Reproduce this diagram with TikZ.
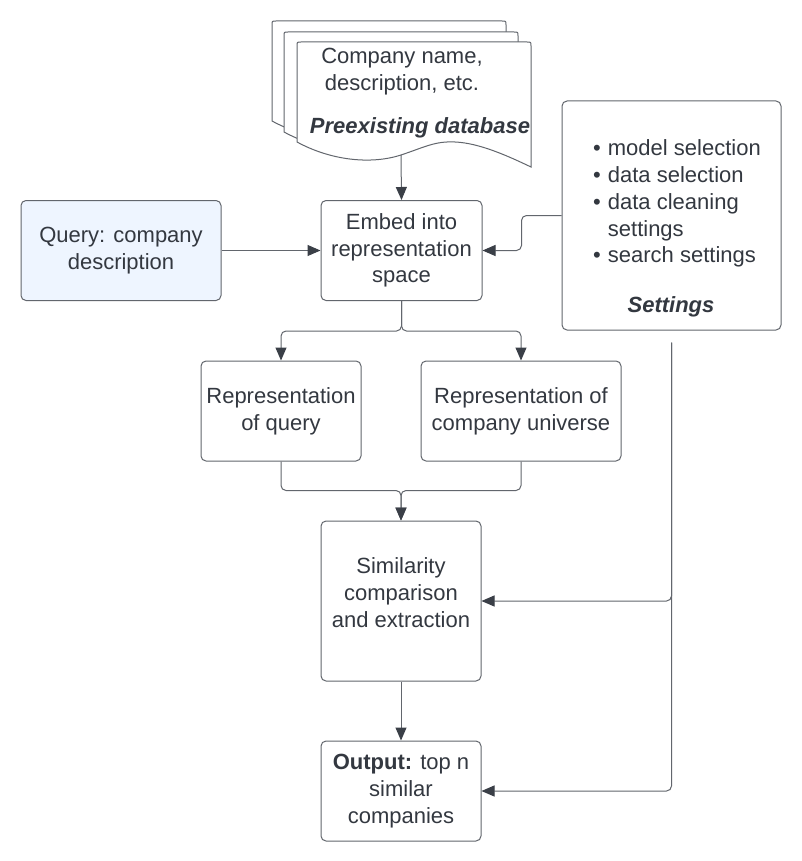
\documentclass[tikz,border=0pt]{standalone}
\usepackage{fontspec}
\setmainfont{Liberation Sans}
\usetikzlibrary{arrows.meta}
\definecolor{txt}{HTML}{333840}
\definecolor{ln}{HTML}{62666D}
\definecolor{arr}{HTML}{3A3F47}
\definecolor{qfill}{HTML}{EEF5FF}
\tikzset{
  base/.style={font=\fontsize{22}{26.7}\selectfont, text=txt},
  bolditalic/.style={font=\fontsize{22}{26.7}\selectfont\bfseries\itshape, text=txt},
  box/.style={base, draw=ln, line width=1pt, rounded corners=5pt, fill=white, align=center, inner sep=0pt},
  conn/.style={draw=ln, line width=1pt, rounded corners=5pt, -{Triangle[length=13pt,width=11pt,color=arr]}},
  sheet/.style={draw=ln, line width=1pt, fill=white},
}
\begin{document}
\begin{tikzpicture}[x=1pt,y=-1pt]
\useasboundingbox (0,0) rectangle (801,861);
\fill[white] (0,0) rectangle (801,861);

% stacked document sheets
\foreach \dx/\dy in {-25/-21, -13/-10, 0/0} {
  \begin{scope}[shift={(\dx,\dy)}]
    \path[sheet] (297,142) -- (297,46) .. controls (297,42) .. (301,42) -- (527,42)
      .. controls (531,42) .. (531,46) -- (531,167)
      .. controls (510,157) and (480,143) .. (455,142)
      .. controls (435,141) and (425,147) .. (401,155)
      .. controls (370,165) and (330,160) .. (297,142) -- cycle;
  \end{scope}
}
\coordinate (docb) at (401,155);
\node[base, align=center] (doctext) at (402,71.5) {Company name,\\description, etc.};
\node[bolditalic] (dbname) at (420,128) {Preexisting database};

% boxes
\node[box, minimum width=161, minimum height=100] (embed) at (401.5,250.5) {Embed into\\representation\\space};
\node[box, fill=qfill, minimum width=200, minimum height=100] (query) at (121,250.5) {Query: company\\description};
\node[box, minimum width=219, minimum height=229] (settings) at (671.5,215.5) {};
\node[base, anchor=base west, inner sep=0pt] (setlist) at (593,156) {\begin{tabular}[t]{@{}l@{\hspace{7pt}}l@{}}
\textbullet & model selection\\
\textbullet & data selection\\
\textbullet & data cleaning\\
 & settings\\
\textbullet & search settings
\end{tabular}};
\node[bolditalic] (settitle) at (671,307) {Settings};
\node[box, minimum width=160, minimum height=100] (repq) at (281,411) {Representation\\of query};
\node[box, minimum width=200, minimum height=100] (repu) at (521,411) {Representation of\\company universe};
\node[box, minimum width=160, minimum height=160, text depth=17pt] (sim) at (401,601) {Similarity\\comparison\\and extraction};
\node[box, minimum width=160, minimum height=100] (out) at (401,791) {\textbf{Output:} top n\\similar\\companies};

% connectors
\draw[conn] (docb) -- (embed.north);
\draw[conn] (query.east) -- (embed.west);
\draw[conn] (settings.west) -- ++(-40,0) |- (embed.east);
\draw[conn] (embed.south) -- ++(0,30) -| (repq.north);
\draw[conn] (embed.south) -- ++(0,30) -| (repu.north);
\draw[conn] (repq.south) -- ++(0,29) -| (sim.north);
\draw[conn] (repu.south) -- ++(0,29) -| (sim.north);
\draw[conn] (sim.south) -- (out.north);
\coordinate (rtop) at ([yshift=-12pt]settings.south);
\draw[conn] (rtop) |- (sim.east);
\draw[conn] (rtop) |- (out.east);
\end{tikzpicture}
\end{document}
